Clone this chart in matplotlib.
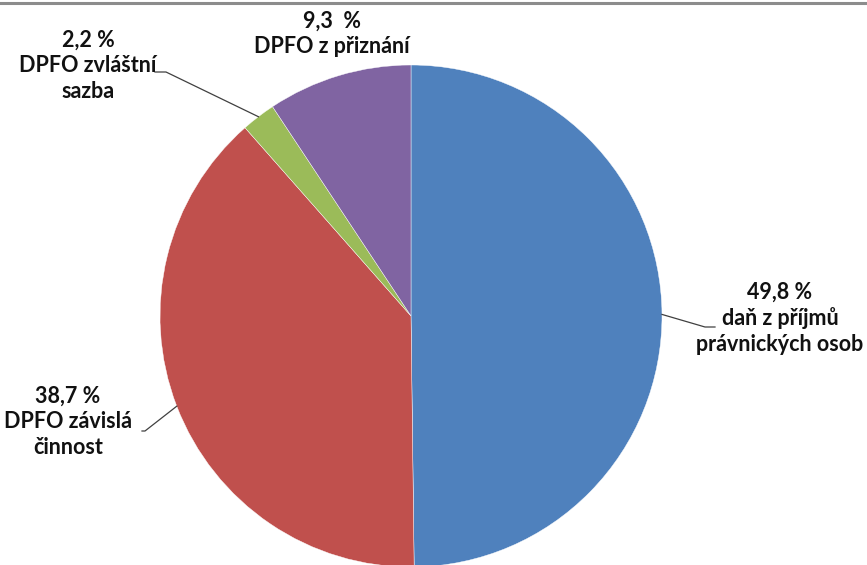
import numpy as np
import matplotlib
matplotlib.use("Agg")
from matplotlib import pyplot as plt
from matplotlib.lines import Line2D

# data
labels = ["daň z příjmů\nprávnických osob", "DPFO závislá\nčinnost", "DPFO zvláštní\nsazba", "DPFO z přiznání"]
pct_text = ["49,8 %", "38,7 %", "2,2 %", "9,3  %"]
values = [49.8, 38.7, 2.2, 9.3]
colors = ["#4F81BD", "#C0504D", "#9BBB59", "#8064A2"]

W, H = 867, 565
cx, cy, r = 411, 249, 251

fig = plt.figure(figsize=(W / 100, H / 100), dpi=100)
ax = fig.add_axes([0, 0, 1, 1])

wedges, _ = ax.pie(values, colors=colors, startangle=90, counterclock=False,
                   center=(cx, cy), radius=r, frame=True,
                   wedgeprops=dict(edgecolor="white", linewidth=0.3))
ax.set_xlim(0, W)
ax.set_ylim(0, H)
ax.set_aspect("equal")
ax.axis("off")

# label layout (text block centre, elbow, line end)
text_pos = [(780, 247), (68, 143), (88, 499), (332, 531)]
elbows = [[(705, 238), (715, 238)], [(145, 134), (142, 134)], [(166, 493), (155, 493)], None]

font = dict(family=["Lato", "DejaVu Sans"], fontsize=15.5, fontweight="bold", color="#111111")

for w, lab, pt, pos, elb in zip(wedges, labels, pct_text, text_pos, elbows):
    mid = np.deg2rad((w.theta1 + w.theta2) / 2)
    ex, ey = cx + r * np.cos(mid), cy + r * np.sin(mid)
    if elb is not None:
        xs = [ex] + [p[0] for p in elb]
        ys = [ey] + [p[1] for p in elb]
        ax.plot(xs, ys, color="#404040", linewidth=0.9)
    ax.text(pos[0], pos[1], pt + "\n" + lab, ha="center", va="center",
            linespacing=1.27, **font)

# top border
fig.add_artist(Line2D([0, 1], [1 - 2.5 / H, 1 - 2.5 / H], color="#8c8c8c", linewidth=2.2))

fig.savefig("out.png", dpi=100)
